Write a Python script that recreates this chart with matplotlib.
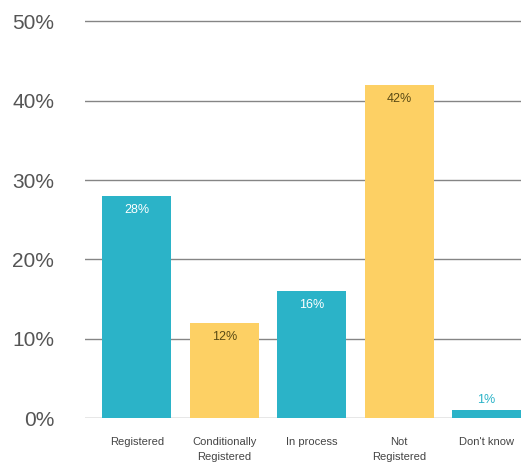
import matplotlib
matplotlib.use('Agg')
import matplotlib.pyplot as plt

categories = ['Registered', 'Conditionally\nRegistered', 'In process', 'Not\nRegistered', "Don't know"]
shares = [28, 12, 16, 42, 1]
bar_colors = ['#2bb3c8', '#fdd064', '#2bb3c8', '#fdd064', '#2bb3c8']
text_colors = ['white', '#5a4a14', 'white', '#5a4a14', 'white']
yticks = [0, 10, 20, 30, 40, 50]

plt.rcParams['font.family'] = ['Liberation Sans', 'DejaVu Sans']

fig = plt.figure(figsize=(5.21, 4.69), dpi=100)
ax = fig.add_axes([0.163, 0.1087, 0.837, 0.8793])

x = list(range(len(categories)))
bars = ax.bar(x, shares, width=0.79, color=bar_colors, zorder=2)

for b, v, c, col in zip(bars, shares, text_colors, bar_colors):
    # labels go inside the bar unless it is too short to hold them
    if v >= 3:
        off, tc = -10, c
    else:
        off, tc = 7, col
    ax.annotate(f'{v}%', (b.get_x() + b.get_width() / 2, v),
                xytext=(0, off), textcoords='offset points',
                ha='center', va='center', fontsize=9, color=tc, zorder=3)

for t in yticks:
    ax.axhline(t, color='#858585', linewidth=1.0, zorder=1)

ax.set_xlim(-0.595, 4.395)
ax.set_ylim(0, 52)
ax.set_yticks(yticks)
ax.set_yticklabels([f'{t}%' for t in yticks], fontsize=15, color='#555555')
ax.set_xticks(x)
ax.set_xticklabels(categories, fontsize=8, color='#444444', linespacing=1.55)
ax.tick_params(axis='y', length=0, pad=22)
ax.tick_params(axis='x', length=0, pad=14)
for s in ax.spines.values():
    s.set_visible(False)

fig.savefig('out.png', dpi=100)
